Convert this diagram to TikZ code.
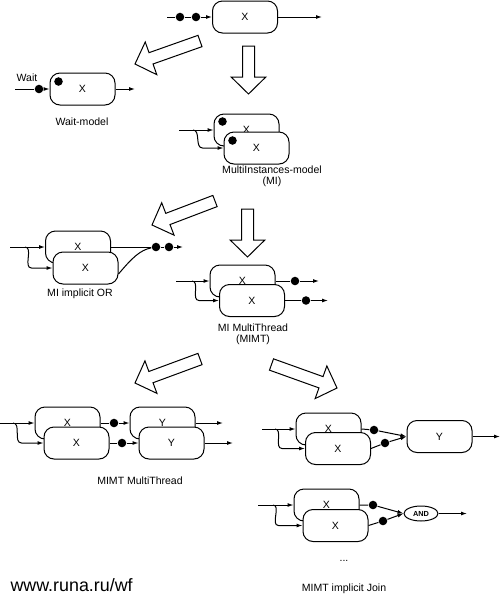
\documentclass[tikz,border=0pt]{standalone}
\usepackage{fontspec}
\setmainfont{Liberation Sans}
\usetikzlibrary{calc,arrows.meta,shapes.geometric}
\newcommand\lblfont{\fontsize{7.9}{8}\selectfont}
\newcommand\bigarr[3]{%
  \coordinate (#1t) at (#2); \coordinate (#1p) at (#3);
  \coordinate (#1b) at ($(#1p)!12.75pt!(#1t)$);
  \draw[bigarrow] ($(#1t)!4.5pt!90:(#1p)$) -- ($(#1b)!4.5pt!90:(#1p)$) -- ($(#1b)!13pt!90:(#1p)$) -- (#1p)
    -- ($(#1b)!13pt!-90:(#1p)$) -- ($(#1b)!4.5pt!-90:(#1p)$) -- ($(#1t)!4.5pt!-90:(#1p)$) -- cycle;}
\tikzset{
  bx/.style={draw, rounded corners=7.5pt, minimum width=48.75pt, minimum height=24pt, fill=white, inner sep=0pt, font=\lblfont},
  tok/.style={circle, fill=black, inner sep=0pt, minimum size=6.4pt},
  arr/.style={-{Latex[length=4.5pt,width=3pt]}},
  lbl/.style={font=\lblfont, inner sep=0pt},
  bigarrow/.style={draw, fill=white, line width=0.75pt, line join=miter},
  andnode/.style={draw, ellipse, minimum width=25.5pt, minimum height=11.25pt, inner sep=0pt, font=\fontsize{5.5}{6}\selectfont\bfseries}
}
\begin{document}
\begin{tikzpicture}[x=0.75pt, y=-0.75pt, line width=0.75pt]
\useasboundingbox (0,0) rectangle (502,601);

% ---- top
\node[bx] (T) at (245,17) {X};
\coordinate (tin) at (167,17);
\node[tok] (td1) at (180,17) {};
\node[tok] (td2) at (196,17) {};
\coordinate (tout) at (322,17);
\draw[arr] (tin) -- (td1) -- (td2) -- (T.west);
\draw[arr] (T.east) -- (tout);

% ---- big arrows
\bigarr{ba}{200,41}{135,64}
\bigarr{bb}{248.5,46}{248.5,94}
\bigarr{bc}{215,201}{152,225}
\bigarr{bd}{247.5,209}{247.5,257}
\bigarr{be}{200,359}{135,383}
\bigarr{bf}{271.5,364.5}{337,388}

% ---- Wait model
\node[bx] (W) at (82.5,89) {X};
\node[tok] (wd) at ([shift={(9,9)}]W.north west) {};
\coordinate (win) at (15,89);
\node[tok] (wt) at (39,89) {};
\coordinate (wout) at (135,89);
\draw[arr] (win) -- (wt) -- (W.west);
\draw[arr] (W.east) -- (wout);
\node[lbl] (wlab) at (27,78) {Wait};
\node[lbl] (wmod) at (82,122) {Wait-model};

% ---- MI
\node[bx] (M1) at (246.5,130) {X};
\node[tok] (m1d) at ([shift={(9,8)}]M1.north west) {};
\node[bx] (M2) at (256.5,148) {X};
\node[tok] (m2d) at ([shift={(9,9)}]M2.north west) {};
\coordinate (mis) at (179,130);
\coordinate (misp) at (193,130);
\draw[arr] (mis) -- (M1.west);
\draw[arr] (misp) to[out=0,in=180] ($(M2.west)+(-21,0)$) -- (M2.west);
\node[lbl, align=center] (milab) at (272,176) {MultiInstances-model\\(MI)};

% ---- MI implicit OR
\node[bx] (O1) at (78,247) {X};
\node[bx] (O2) at (85.5,268) {X};
\coordinate (ois) at (10,247);
\coordinate (oisp) at (25,247);
\draw[arr] (ois) -- (O1.west);
\draw[arr] (oisp) to[out=0,in=180] ($(O2.west)+(-21,0)$) -- (O2.west);
\node[tok] (od1) at (156,247) {};
\node[tok] (od2) at (169,247) {};
\coordinate (oout) at (183,247);
\coordinate (o2s) at ($(O2.east)+(0,6)$);
\draw (O1.east) -- (od1);
\draw (o2s) .. controls (132,258) and (140,250) .. (od1);
\draw[arr] (od1) -- (od2) -- (oout);
\node[lbl] (orlab) at (80,294) {MI implicit OR};

% ---- MI MultiThread
\node[bx] (A1) at (242.5,281) {X};
\node[bx] (A2) at (252,300.5) {X};
\coordinate (ais) at (176,281);
\coordinate (aisp) at (192,281);
\draw[arr] (ais) -- (A1.west);
\draw[arr] (aisp) to[out=0,in=180] ($(A2.west)+(-20,0)$) -- (A2.west);
\node[tok] (ad1) at (295,281) {};
\node[tok] (ad2) at (306,300.5) {};
\coordinate (aout1) at (319,281);
\coordinate (aout2) at (328,300.5);
\draw[arr] (A1.east) -- (ad1) -- (aout1);
\draw[arr] (A2.east) -- (ad2) -- (aout2);
\node[lbl, align=center] (amlab) at (253,334.5) {MI MultiThread\\(MIMT)};

% ---- MIMT MultiThread
\node[bx] (X1) at (67.5,423) {X};
\node[bx] (X2) at (76.5,443) {X};
\node[bx] (Y1) at (162.5,423) {Y};
\node[bx] (Y2) at (171.5,443) {Y};
\coordinate (xis) at (0,423);
\coordinate (xisp) at (13,423);
\draw[arr] (xis) -- (X1.west);
\draw[arr] (xisp) to[out=0,in=180] ($(X2.west)+(-22,0)$) -- (X2.west);
\node[tok] (xd1) at (114,423) {};
\node[tok] (xd2) at (122,443) {};
\draw[arr] (X1.east) -- (xd1) -- (Y1.west);
\draw[arr] (X2.east) -- (xd2) -- (Y2.west);
\coordinate (yout1) at (223,423);
\coordinate (yout2) at (233,443);
\draw[arr] (Y1.east) -- (yout1);
\draw[arr] (Y2.east) -- (yout2);
\node[lbl] (mmlab) at (140,481) {MIMT MultiThread};

% ---- MIMT join to Y
\node[bx] (J1) at (328.5,429) {X};
\node[bx] (J2) at (338,448.5) {X};
\node[bx] (JY) at (439.5,436.5) {Y};
\coordinate (jis) at (262,429);
\coordinate (jisp) at (275,429);
\draw[arr] (jis) -- (J1.west);
\draw[arr] (jisp) to[out=0,in=180] ($(J2.west)+(-23,0)$) -- (J2.west);
\node[tok] (jd1) at (374,430) {};
\node[tok] (jd2) at (385,443) {};
\draw[arr] (J1.east) -- (jd1) -- (JY.west);
\draw[arr] (J2.east) -- (jd2) -- (JY.west);
\coordinate (jout) at (500,436.5);
\draw[arr] (JY.east) -- (jout);

% ---- MIMT join with AND
\node[bx] (K1) at (326.5,505) {X};
\node[bx] (K2) at (335.5,525.5) {X};
\node[andnode] (AND) at (421,513.5) {AND};
\coordinate (kis) at (258,505);
\coordinate (kisp) at (273,505);
\draw[arr] (kis) -- (K1.west);
\draw[arr] (kisp) to[out=0,in=180] ($(K2.west)+(-24,0)$) -- (K2.west);
\node[tok] (kd1) at (373,505) {};
\node[tok] (kd2) at (383,521) {};
\draw[arr] (K1.east) -- (kd1) -- (AND.west);
\draw[arr] (K2.east) -- (kd2) -- (AND.west);
\coordinate (kout) at (467,513.5);
\draw[arr] (AND.east) -- (kout);

\node[lbl] (dots) at (344,561) {...};
\node[lbl] (jnlab) at (344,589) {MIMT implicit Join};

\node[anchor=west, inner sep=0pt, font=\fontsize{13.4}{14}\selectfont] (url) at (10,585) {www.runa.ru/wf};
\end{tikzpicture}
\end{document}
